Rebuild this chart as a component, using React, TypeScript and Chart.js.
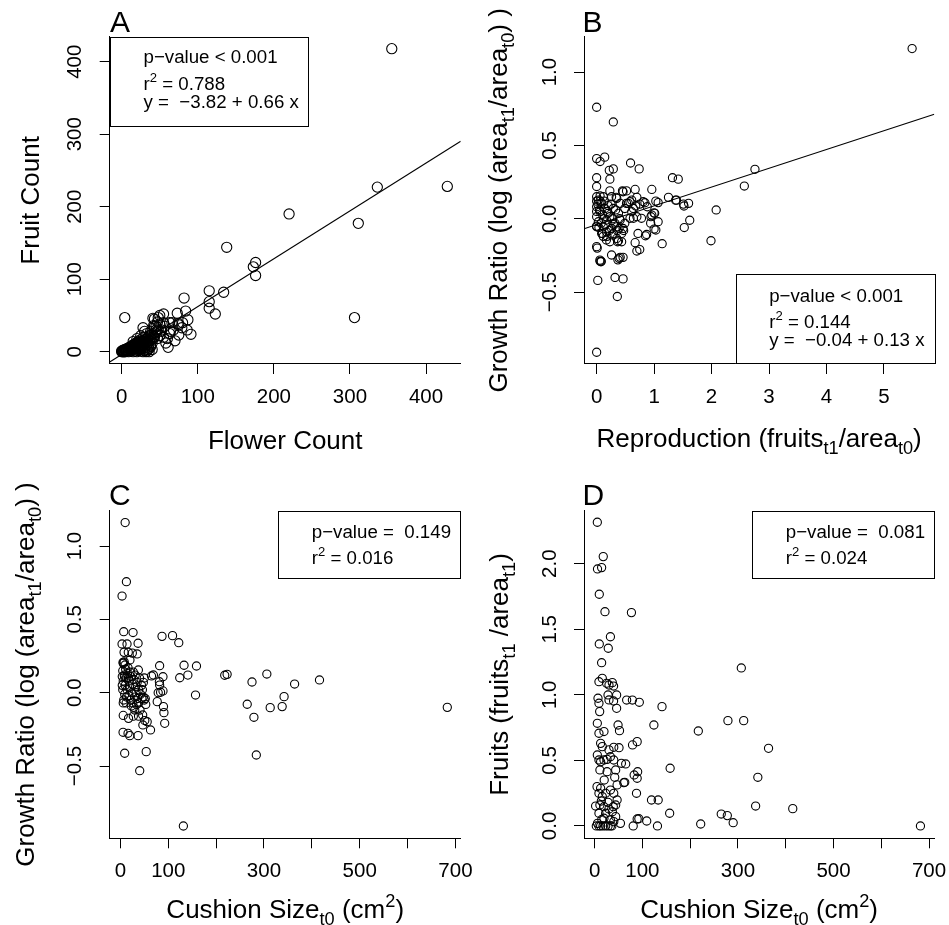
import React, { useEffect, useRef } from 'react';
import { Chart, registerables } from 'chart.js';

Chart.register(...registerables);

const FONT = '"Liberation Sans", Arial, Helvetica, sans-serif';
const PAGE_W = 949;
const PAGE_H = 925;

// ---------------- DATA ----------------
// Panel A: [flower count, fruit count]
const A_POINTS: [number, number][] = [
  [355, 418], [336, 227], [428, 228], [220, 190], [311, 177], [306, 47], [138, 144], [176, 123], [173, 117], [176, 105],
  [115, 84], [134, 82], [115, 69], [115, 60], [123, 52], [4, 47],
  [82, 74], [84, 56], [73, 53], [55, 52], [50, 50], [48, 47], [43, 45], [41, 46], [80, 40], [66, 40], [63, 40], [91, 24],
  [86, 30], [75, 23], [64, 28], [61, 6], [79, 33], [75, 37], [87, 44], [74, 39], [28, 33], [36, 0], [52, 28], [63, 25],
  [47, 41], [43, 35], [38, 7], [57, 35], [68, 30], [60, 18], [70, 15], [58, 12], [50, 22], [55, 40], [45, 30],
  [0, 0], [1, 0], [2, 0], [3, 1], [4, 0], [5, 2], [6, 1], [7, 3], [8, 2], [9, 4], [10, 3], [11, 5], [12, 4], [13, 6],
  [14, 5], [15, 7], [16, 6], [17, 8], [18, 9], [19, 7], [20, 10], [21, 8], [22, 11], [23, 12], [24, 9], [25, 13], [26, 14],
  [27, 10], [28, 15], [29, 12], [30, 16], [31, 17], [32, 13], [33, 18], [34, 14], [35, 20], [36, 16], [37, 22], [38, 19],
  [40, 24], [42, 21], [44, 26], [46, 28], [48, 30], [2, 2], [3, 0], [5, 0], [6, 3], [8, 5], [10, 6], [12, 7], [14, 9],
  [16, 10], [18, 11], [20, 13], [22, 14], [24, 16], [26, 11], [28, 19], [30, 14], [0, 1], [1, 1], [4, 3], [7, 1], [9, 0],
  [11, 2], [13, 3], [15, 4], [17, 5], [19, 4], [21, 6], [23, 5], [25, 8], [27, 7], [29, 9], [31, 11], [33, 10], [35, 12],
  [37, 15], [39, 17], [41, 18], [43, 20], [38, 8], [40, 12], [36, 4], [45, 35], [50, 38], [52, 30], [55, 20], [47, 18],
  [42, 36], [38, 28], [33, 25], [30, 28], [25, 22], [20, 18], [15, 14], [20, 0], [25, 1], [28, 0], [30, 2], [32, 0],
  [34, 3], [22, 2], [26, 4], [18, 1], [15, 0], [12, 1], [35, 6], [33, 1], [29, 5], [24, 3], [40, 3],
];

// Panel B: [reproduction, growth ratio]
const B_POINTS: [number, number][] = [
  [0, 0.76], [0.29, 0.66], [0, 0.41], [0.06, 0.39], [0.14, 0.42], [0.59, 0.38], [0.74, 0.34], [0.22, 0.33], [0.29, 0.34],
  [0.23, 0.27], [0, 0.28], [0, 0.22], [1.32, 0.28], [1.42, 0.27], [0.96, 0.2], [0.23, 0.19], [0.45, 0.19], [0.52, 0.19],
  [0.67, 0.2], [0, 0.15], [0.06, 0.155], [0.26, 0.15], [0.34, 0.146], [0.7, 0.146], [0.81, 0.116], [1.03, 0.12],
  [1.07, 0.11], [1.25, 0.146], [1.39, 0.127], [1.52, 0.087], [1.6, 0.105], [2.08, 0.06], [1.62, -0.01], [1.525, -0.06],
  [1.99, -0.15], [1.14, -0.17], [0.55, 0.105], [0.61, 0.127], [0.64, 0.07], [0.96, 0.025], [1.0, 0.04], [0.94, -0.03],
  [1.0, -0.07], [0.87, -0.107], [0.72, -0.1], [0.67, -0.163], [0.75, -0.21], [0.7, -0.22], [0.435, -0.157],
  [0.365, -0.157], [0.23, -0.157], [0, -0.19], [0.01, -0.2], [0.26, -0.247], [0.46, -0.263], [0.39, -0.27], [0.37, -0.28],
  [0.06, -0.29], [0.08, -0.29], [0.32, -0.4], [0.46, -0.41], [0.02, -0.42], [0.36, -0.53], [0, -0.91], [5.49, 1.16],
  [2.755, 0.337], [2.57, 0.223],
  [0.46, 0.184], [0.58, 0.116], [0.52, 0.105], [0.68, 0.087], [0.75, 0.1], [0.84, 0.109], [0.88, 0.082], [0.945, 0.014],
  [1.01, 0.037], [1.07, -0.02], [1.03, -0.077], [0.78, 0.003], [0.7, 0.014], [0.61, 0.048], [0.49, 0.07], [0.41, 0.105],
  [0.35, 0.139], [0.29, 0.07], [0.38, 0.037], [0.41, -0.009], [0.32, -0.031], [0.23, 0.014], [0.17, -0.009],
  [0.115, -0.055], [0.087, -0.1], [0.17, -0.089], [0.26, -0.066], [0.35, -0.055], [0.46, -0.066], [0.49, -0.031],
  [0.435, -0.1], [0.35, -0.134], [0, 0.014], [0.03, -0.02], [0, -0.055], [0.06, 0.048], [0, 0.082], [0.087, 0.105],
  [0.03, 0.127], [0.115, 0.15], [0.144, 0.07], [0.2, 0.037], [0.115, -0.12], [0.17, -0.145], [0.29, -0.1], [0.41, -0.263],
  [0.057, -0.282], [1.375, 0.127], [1.51, 0.1], [0.85, -0.116], [0.58, 0.003], [0.64, 0.003], [0.39, -0.066],
  [0.47, -0.08], [0.38, -0.15], [0.075, -0.293],
  [0, 0.12], [0.02, 0.1], [0.05, 0.06], [0.1, 0.03], [0.12, 0.0], [0.08, -0.03], [0.04, -0.06], [0.15, -0.04],
  [0.18, 0.05], [0.2, 0.09], [0.13, 0.12], [0.25, 0.1], [0.28, 0.0], [0.3, -0.04], [0.22, -0.08], [0.1, -0.1],
  [0, -0.05], [0, 0.05], [0.33, 0.06], [0.4, 0.0], [0.06, 0.12], [0.18, -0.12], [0.27, -0.11], [0.36, -0.08],
];

// Panel C: [cushion size t0, growth ratio]
const C_POINTS: [number, number][] = [
  [10, 1.16], [12.6, 0.757], [3.5, 0.659], [7, 0.416], [26.5, 0.41], [87, 0.384], [109, 0.389], [122, 0.341], [3.5, 0.332],
  [13.9, 0.332], [37, 0.337], [7.7, 0.275], [16.5, 0.275], [25, 0.27], [35, 0.264], [5.6, 0.207], [9.8, 0.189], [20, 0.223],
  [82, 0.184], [133, 0.187], [159, 0.182], [65, 0.114], [69, 0.121], [89, 0.109], [124, 0.102], [141, 0.12], [218, 0.119],
  [223, 0.125], [275, 0.073], [306, 0.127], [157, -0.016], [265, -0.079], [279, -0.168], [284, -0.425], [79, 0],
  [89, 0.012], [84, 0.003], [82, 0.052], [81.5, 0.075], [77, -0.061], [90, -0.095], [91, -0.136], [92.6, -0.209],
  [63, -0.254], [54, -0.402], [9, -0.413], [40.4, -0.532], [5.6, -0.27], [16, -0.277], [19.6, -0.293], [37, -0.293],
  [47, -0.22], [56, -0.198], [51, -0.19], [46.6, -0.152], [6, -0.155], [17, -0.175], [27, -0.16], [38, -0.16], [30, -0.118],
  [41, -0.118], [131.6, -0.909], [683, -0.1], [416, 0.087], [364, 0.059], [342, -0.027], [338, -0.095], [313, -0.102],
  [37.6, 0.155],
  [5, 0.15], [8, 0.12], [12, 0.1], [15, 0.13], [18, 0.08], [22, 0.11], [25, 0.06], [28, 0.09], [32, 0.04], [35, 0.07],
  [38, 0.02], [42, -0.01], [45, -0.04], [48, -0.03], [50, -0.05], [10, 0.05], [14, 0.02], [18, -0.02], [22, -0.05],
  [26, -0.07], [30, -0.03], [34, -0.08], [6, 0.08], [9, -0.01], [12, -0.07], [16, 0.17], [20, 0.14], [24, 0.0],
  [28, -0.1], [40, 0.1], [44, 0.05], [36, -0.04], [5, 0.02], [7, -0.05], [11, 0.16], [19, 0.04], [23, -0.09], [31, 0.12],
  [38, -0.07], [52, -0.04], [33, 0.0], [27, 0.14], [13, -0.03], [17, 0.1], [9, 0.11], [6, 0.2], [8, 0.21], [4, 0.11],
  [6, -0.07], [4, 0.05], [46, 0.02], [50, 0.1], [53, -0.08], [48, 0.07],
];

// Panel D: [cushion size t0, fruits t1 / area t1]
const D_POINTS: [number, number][] = [
  [5.6, 2.316], [18, 2.054], [6, 1.96], [14.6, 1.97], [9.7, 1.767], [21.6, 1.634], [77, 1.627], [33, 1.443], [9.7, 1.388],
  [28.5, 1.355], [14.6, 1.245], [307, 1.205], [279, 0.803], [312, 0.803], [364, 0.592], [217, 0.724], [124, 0.77],
  [141, 0.91], [67, 0.96], [79, 0.96], [93.5, 0.943], [79.3, 0.618], [89, 0.643], [158, 0.44], [341.6, 0.371],
  [337, 0.152], [414.7, 0.132], [682, 0], [265, 0.091], [277.7, 0.079], [290, 0.025], [222, 0.015], [131.5, 0],
  [157, 0.097], [119, 0.198], [133, 0.198], [109, 0.038], [89, 0.053], [92.5, 0.055], [80.7, 0], [87.6, 0.249],
  [82.7, 0.389], [89, 0.364], [90, 0.414], [63, 0.333], [65, 0.473], [56, 0.478],
  [16, 1.126], [9, 1.1], [25, 1.088], [37, 1.093], [39.6, 1.067], [30, 1.075], [28, 0.999], [46, 0.999], [7, 0.974],
  [9, 0.936], [10.5, 0.872], [30, 0.961], [39.6, 0.953], [46, 0.897], [5.6, 0.783], [9, 0.707], [19.5, 0.72], [49, 0.77],
  [52, 0.727], [11, 0.427], [26, 0.414], [61, 0.33],
  [12.5, 0.63], [16, 0.605], [30, 0.58], [40, 0.6], [51, 0.597], [5.6, 0.541], [9, 0.503], [12.5, 0.49], [19.5, 0.503],
  [26, 0.508], [33, 0.528], [40, 0.503], [44, 0.427], [42, 0.371], [47, 0.313], [33, 0.274], [12.5, 0.287], [9, 0.249],
  [16, 0.224], [23, 0.249], [40, 0.249], [47, 0.198], [2, 0.152], [11, 0.16], [19.5, 0.147], [39, 0.147], [44, 0.16],
  [9, 0.097], [23, 0.097], [37, 0.109], [44, 0.071], [19.5, 0.059], [33, 0.046], [40, 0.033], [3.5, 0], [9, 0],
  [12.5, 0], [17.5, 0], [23, 0], [28, 0], [33, 0], [54, 0.02], [5, 0.3], [20, 0.35], [28, 0.18], [15, 0.05], [6, 0.02],
  [36, 0.0], [30, 0.13], [14, 0.19],
];

// Regression lines [intercept, slope]
const A_FIT: [number, number] = [-3.82, 0.66];
const B_FIT: [number, number] = [-0.04, 0.128];

// Ticks
const A_XTICKS = [0, 100, 200, 300, 400];
const A_XLABELS = ['0', '100', '200', '300', '400'];
const A_YTICKS = [0, 100, 200, 300, 400];
const A_YLABELS = ['0', '100', '200', '300', '400'];
const B_XTICKS = [0, 1, 2, 3, 4, 5];
const B_XLABELS = ['0', '1', '2', '3', '4', '5'];
const GR_YTICKS = [-0.5, 0, 0.5, 1];
const GR_YLABELS = ['\u22120.5', '0.0', '0.5', '1.0'];
const CS_XTICKS = [0, 100, 200, 300, 400, 500, 600, 700];
const CS_XLABELS = ['0', '100', '', '300', '', '500', '', '700'];
const D_YTICKS = [0, 0.5, 1, 1.5, 2];
const D_YLABELS = ['0.0', '0.5', '1.0', '1.5', '2.0'];

// ---------------- LAYOUT ----------------
type Seg = { t: string; k?: 'sub' | 'sup' };
type Area = { left: number; top: number; right: number; bottom: number };
interface Panel {
  letter: string;
  letterX: number;
  letterY: number;
  area: Area;
  xRange: [number, number];
  yRange: [number, number];
  xTicks: number[];
  xLabels: string[];
  yTicks: number[];
  yLabels: string[];
  points: [number, number][];
  radius: number;
  fit?: [number, number];
  xTitle: Seg[];
  xTitleY: number;
  yTitle: Seg[];
  yTitleX: number;
  legendBox: Area;
  legendLines: Seg[][];
  legendBaselines: number[];
}

const TICK_FONT = 20.5;
const TITLE_FONT = 26;
const LEGEND_FONT = 18.7;
const LETTER_FONT = 30;

const GROWTH_TITLE: Seg[] = [
  { t: 'Growth Ratio (log (area' }, { t: 't1', k: 'sub' }, { t: '/area' }, { t: 't0', k: 'sub' }, { t: ') )' },
];
const CUSHION_TITLE: Seg[] = [
  { t: 'Cushion Size' }, { t: 't0', k: 'sub' }, { t: ' (cm' }, { t: '2', k: 'sup' }, { t: ')' },
];

const AREA_A: Area = { left: 109.7, top: 36.7, right: 460.7, bottom: 364 };
const AREA_B: Area = { left: 584, top: 36.7, right: 934.3, bottom: 364 };
const AREA_C: Area = { left: 109.7, top: 510.7, right: 460.7, bottom: 838.3 };
const AREA_D: Area = { left: 584, top: 510.7, right: 934.3, bottom: 838.3 };

const PANELS: Panel[] = [
  {
    letter: 'A', letterX: 110, letterY: 31.7, area: AREA_A,
    xRange: [-15.8, 445.6], yRange: [-17, 434.5],
    xTicks: A_XTICKS, xLabels: A_XLABELS, yTicks: A_YTICKS, yLabels: A_YLABELS,
    points: A_POINTS, radius: 5.1, fit: A_FIT,
    xTitle: [{ t: 'Flower Count' }], xTitleY: 449,
    yTitle: [{ t: 'Fruit Count' }], yTitleX: 38.5,
    legendBox: { left: 110, top: 36.7, right: 308.3, bottom: 126 },
    legendLines: [
      [{ t: 'p\u2212value < 0.001' }],
      [{ t: 'r' }, { t: '2', k: 'sup' }, { t: ' = 0.788' }],
      [{ t: 'y =  \u22123.82 + 0.66 x' }],
    ],
    legendBaselines: [63.3, 90, 107.5],
  },
  {
    letter: 'B', letterX: 582.6, letterY: 31.7, area: AREA_B,
    xRange: [-0.22, 5.876], yRange: [-0.99, 1.241],
    xTicks: B_XTICKS, xLabels: B_XLABELS, yTicks: GR_YTICKS, yLabels: GR_YLABELS,
    points: B_POINTS, radius: 4.1, fit: B_FIT,
    xTitle: [{ t: 'Reproduction (fruits' }, { t: 't1', k: 'sub' }, { t: '/area' }, { t: 't0', k: 'sub' }, { t: ')' }],
    xTitleY: 447,
    yTitle: GROWTH_TITLE, yTitleX: 507,
    legendBox: { left: 735.7, top: 274, right: 934.3, bottom: 363.3 },
    legendLines: [
      [{ t: 'p\u2212value < 0.001' }],
      [{ t: 'r' }, { t: '2', k: 'sup' }, { t: ' = 0.144' }],
      [{ t: 'y =  \u22120.04 + 0.13 x' }],
    ],
    legendBaselines: [301.7, 327.7, 345.7],
  },
  {
    letter: 'C', letterX: 109, letterY: 504.5, area: AREA_C,
    xRange: [-22.3, 711], yRange: [-0.993, 1.241],
    xTicks: CS_XTICKS, xLabels: CS_XLABELS, yTicks: GR_YTICKS, yLabels: GR_YLABELS,
    points: C_POINTS, radius: 4.1,
    xTitle: CUSHION_TITLE, xTitleY: 918,
    yTitle: GROWTH_TITLE, yTitleX: 33.5,
    legendBox: { left: 278.3, top: 510.7, right: 460.7, bottom: 577.7 },
    legendLines: [
      [{ t: 'p\u2212value =  0.149' }],
      [{ t: 'r' }, { t: '2', k: 'sup' }, { t: ' = 0.016' }],
    ],
    legendBaselines: [538.3, 564.3],
  },
  {
    letter: 'D', letterX: 582.6, letterY: 504.5, area: AREA_D,
    xRange: [-22.3, 711], yRange: [-0.094, 2.404],
    xTicks: CS_XTICKS, xLabels: CS_XLABELS, yTicks: D_YTICKS, yLabels: D_YLABELS,
    points: D_POINTS, radius: 4.1,
    xTitle: CUSHION_TITLE, xTitleY: 918,
    yTitle: [{ t: 'Fruits (fruits' }, { t: 't1', k: 'sub' }, { t: ' /area' }, { t: 't1', k: 'sub' }, { t: ')' }],
    yTitleX: 508,
    legendBox: { left: 752.3, top: 510.7, right: 934.3, bottom: 577.7 },
    legendLines: [
      [{ t: 'p\u2212value =  0.081' }],
      [{ t: 'r' }, { t: '2', k: 'sup' }, { t: ' = 0.024' }],
    ],
    legendBaselines: [538.3, 564.3],
  },
];

// ---------------- DRAWING HELPERS ----------------
function segSize(s: Seg, size: number) {
  return s.k ? size * 0.7 : size;
}
function segsWidth(ctx: CanvasRenderingContext2D, segs: Seg[], size: number) {
  let w = 0;
  for (const s of segs) {
    ctx.font = `${segSize(s, size)}px ${FONT}`;
    w += ctx.measureText(s.t).width;
  }
  return w;
}
function drawSegs(ctx: CanvasRenderingContext2D, segs: Seg[], x: number, y: number, size: number, align: 'left' | 'center') {
  const w = segsWidth(ctx, segs, size);
  let cx = align === 'center' ? x - w / 2 : x;
  ctx.textAlign = 'left';
  ctx.textBaseline = 'alphabetic';
  for (const s of segs) {
    ctx.font = `${segSize(s, size)}px ${FONT}`;
    const dy = s.k === 'sub' ? size * 0.28 : s.k === 'sup' ? -size * 0.42 : 0;
    ctx.fillText(s.t, cx, y + dy);
    cx += ctx.measureText(s.t).width;
  }
}

function annotationPlugin(p: Panel) {
  return {
    id: 'annot' + p.letter,
    afterDraw(chart: any) {
      const ctx: CanvasRenderingContext2D = chart.ctx;
      const ys = chart.scales.y;
      ctx.save();
      ctx.fillStyle = '#000';
      ctx.strokeStyle = '#000';

      // panel letter
      ctx.font = `${LETTER_FONT}px ${FONT}`;
      ctx.textAlign = 'left';
      ctx.textBaseline = 'alphabetic';
      ctx.fillText(p.letter, p.letterX, p.letterY);

      // rotated y tick labels
      ctx.font = `${TICK_FONT}px ${FONT}`;
      p.yTicks.forEach((v, i) => {
        const py = ys.getPixelForValue(v);
        ctx.save();
        ctx.translate(p.area.left - 28.5, py);
        ctx.rotate(-Math.PI / 2);
        ctx.textAlign = 'center';
        ctx.textBaseline = 'alphabetic';
        ctx.fillText(p.yLabels[i], 0, 0);
        ctx.restore();
      });

      // axis titles
      drawSegs(ctx, p.xTitle, (p.area.left + p.area.right) / 2, p.xTitleY, TITLE_FONT, 'center');
      ctx.save();
      ctx.translate(p.yTitleX, (p.area.top + p.area.bottom) / 2);
      ctx.rotate(-Math.PI / 2);
      drawSegs(ctx, p.yTitle, 0, 0, TITLE_FONT, 'center');
      ctx.restore();

      // legend box
      const b = p.legendBox;
      ctx.fillStyle = '#fff';
      ctx.fillRect(b.left, b.top, b.right - b.left, b.bottom - b.top);
      ctx.lineWidth = 1;
      ctx.strokeStyle = '#000';
      ctx.strokeRect(Math.round(b.left) + 0.5, Math.round(b.top) + 0.5, Math.round(b.right - b.left), Math.round(b.bottom - b.top));
      ctx.fillStyle = '#000';
      p.legendLines.forEach((line, i) => {
        drawSegs(ctx, line, b.left + 33.5, p.legendBaselines[i], LEGEND_FONT, 'left');
      });
      ctx.restore();
    },
  };
}

function makeChart(canvas: HTMLCanvasElement, p: Panel) {
  const xAxisH = 60;
  const datasets: any[] = [
    {
      data: p.points.map(([x, y]) => ({ x, y })),
      pointRadius: p.radius,
      pointBorderWidth: 1.1,
      pointBorderColor: '#000',
      pointBackgroundColor: 'rgba(0,0,0,0)',
      pointHoverRadius: p.radius,
      showLine: false,
    },
  ];
  if (p.fit) {
    const [a, b] = p.fit;
    datasets.push({
      data: [
        { x: p.xRange[0], y: a + b * p.xRange[0] },
        { x: p.xRange[1], y: a + b * p.xRange[1] },
      ],
      showLine: true,
      pointRadius: 0,
      borderColor: '#000',
      borderWidth: 1.1,
      fill: false,
    });
  }
  const gridOpts = { drawOnChartArea: false, drawTicks: true, tickLength: 10, color: '#000', lineWidth: 1 };
  const borderOpts = { display: true, color: '#000', width: 1 };
  return new Chart(canvas, {
    type: 'scatter',
    data: { datasets },
    options: {
      responsive: false,
      animation: false,
      events: [],
      layout: {
        padding: {
          left: 0,
          top: p.area.top,
          right: PAGE_W - p.area.right,
          bottom: PAGE_H - p.area.bottom - xAxisH,
        },
      },
      plugins: { legend: { display: false }, tooltip: { enabled: false }, title: { display: false } },
      scales: {
        x: {
          type: 'linear',
          position: 'bottom',
          min: p.xRange[0],
          max: p.xRange[1],
          afterBuildTicks: (s: any) => {
            s.ticks = p.xTicks.map((v) => ({ value: v }));
          },
          afterFit: (s: any) => {
            s.height = xAxisH;
            s.paddingLeft = 0;
            s.paddingRight = 0;
          },
          ticks: {
            autoSkip: false,
            maxRotation: 0,
            minRotation: 0,
            padding: 11.2,
            color: '#000',
            font: { family: FONT, size: TICK_FONT },
            callback: (_v: any, i: number) => p.xLabels[i],
          },
          grid: gridOpts,
          border: borderOpts,
        },
        y: {
          type: 'linear',
          position: 'left',
          min: p.yRange[0],
          max: p.yRange[1],
          afterBuildTicks: (s: any) => {
            s.ticks = p.yTicks.map((v) => ({ value: v }));
          },
          afterFit: (s: any) => {
            s.width = p.area.left;
            s.paddingTop = 0;
            s.paddingBottom = 0;
          },
          ticks: { display: false },
          grid: gridOpts,
          border: borderOpts,
        },
      },
    } as any,
    plugins: [annotationPlugin(p)],
  });
}

function PanelCanvas({ p }: { p: Panel }) {
  const ref = useRef<HTMLCanvasElement>(null);
  useEffect(() => {
    if (!ref.current) return;
    const chart = makeChart(ref.current, p);
    return () => chart.destroy();
  }, [p]);
  return (
    <canvas
      ref={ref}
      width={PAGE_W}
      height={PAGE_H}
      style={{ position: 'absolute', left: 0, top: 0, width: PAGE_W, height: PAGE_H }}
    />
  );
}

export default function App() {
  return (
    <div
      style={{
        position: 'absolute',
        left: 0,
        top: 0,
        width: PAGE_W,
        height: PAGE_H,
        overflow: 'hidden',
        background: '#fff',
      }}
    >
      {PANELS.map((p) => (
        <PanelCanvas key={p.letter} p={p} />
      ))}
    </div>
  );
}
